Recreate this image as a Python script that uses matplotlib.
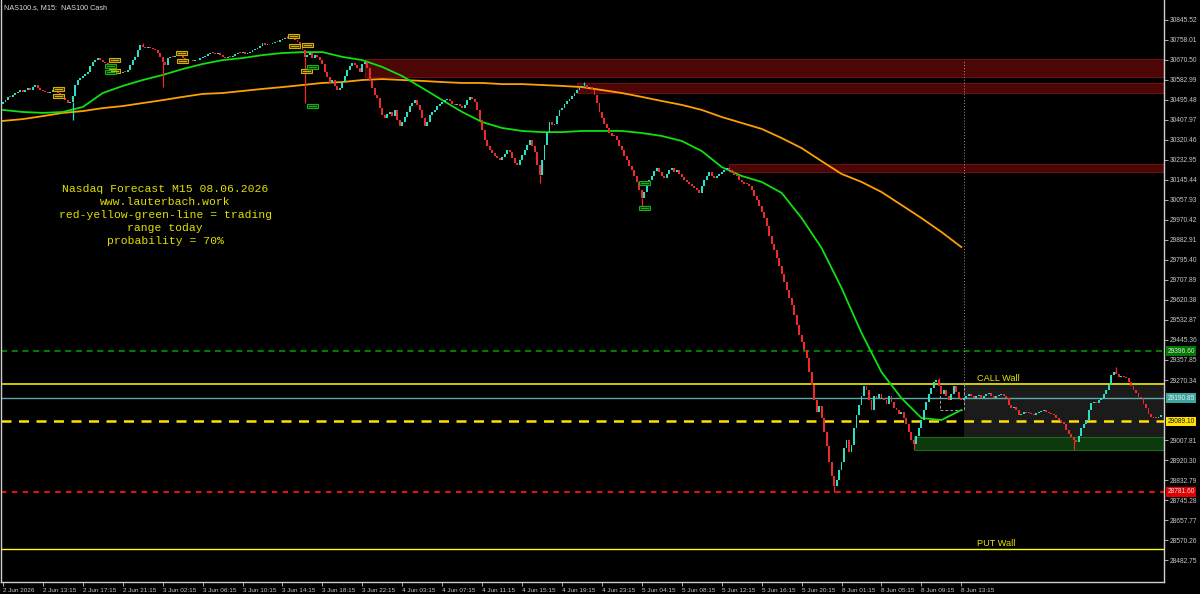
import matplotlib
matplotlib.use("Agg")
import matplotlib.pyplot as plt
from matplotlib.patches import Rectangle

# M15 closes (2 Jun 09:15 .. 8 Jun 13:30)
close_real = [
    30487, 30495, 30509, 30509, 30517, 30526, 30530, 30539, 30530, 30539, 30548, 30539, 30552, 30561, 30548, 30539,
    30535, 30530, 30526, 30530, 30539, 30530, 30526, 30509, 30504, 30495, 30482, 30487, 30513, 30561, 30583, 30592,
    30600, 30609, 30618, 30644, 30662, 30670, 30679, 30670, 30662, 30657, 30644, 30635, 30627, 30618, 30609, 30614,
    30618, 30618, 30627, 30649, 30670, 30684, 30714, 30736, 30727, 30723, 30727, 30723, 30719, 30714, 30701, 30684,
    30662, 30649, 30679, 30684, 30684, 30688, 30692, 30688, 30679, 30675, 30670, 30670, 30666, 30670, 30670, 30679,
    30684, 30688, 30697, 30701, 30701, 30697, 30701, 30692, 30684, 30679, 30684, 30684, 30688, 30697, 30701, 30701,
    30705, 30697, 30701, 30705, 30714, 30719, 30723, 30732, 30745, 30736, 30740, 30740, 30745, 30749, 30749, 30758,
    30762, 30767, 30767, 30771, 30767, 30758, 30749, 30736, 30714, 30684, 30692, 30701, 30679, 30692, 30684, 30670,
    30653, 30618, 30596, 30570, 30583, 30557, 30539, 30548, 30574, 30600, 30627, 30644, 30657, 30649, 30635, 30618,
    30653, 30662, 30635, 30583, 30548, 30517, 30504, 30460, 30430, 30417, 30434, 30443, 30425, 30452, 30408, 30382,
    30399, 30421, 30443, 30469, 30482, 30495, 30474, 30452, 30417, 30382, 30399, 30430, 30443, 30452, 30469, 30478,
    30487, 30495, 30500, 30491, 30478, 30474, 30478, 30469, 30460, 30474, 30495, 30509, 30500, 30487, 30452, 30408,
    30364, 30320, 30294, 30277, 30264, 30250, 30242, 30233, 30246, 30259, 30277, 30268, 30242, 30220, 30211, 30233,
    30255, 30277, 30299, 30320, 30294, 30268, 30211, 30167, 30233, 30299, 30355, 30399, 30386, 30390, 30425, 30452,
    30460, 30478, 30491, 30500, 30513, 30526, 30539, 30548, 30557, 30561, 30548, 30552, 30539, 30517, 30482, 30443,
    30417, 30390, 30373, 30351, 30338, 30338, 30320, 30294, 30277, 30250, 30233, 30207, 30189, 30163, 30137, 30102,
    30067, 30093, 30119, 30145, 30163, 30185, 30198, 30180, 30163, 30154, 30172, 30189, 30198, 30180, 30189, 30172,
    30159, 30145, 30137, 30128, 30119, 30110, 30102, 30089, 30119, 30145, 30163, 30180, 30163, 30154, 30163, 30172,
    30180, 30189, 30198, 30189, 30180, 30167, 30163, 30145, 30137, 30128, 30128, 30119, 30102, 30075, 30058, 30032,
    30005, 29979, 29944, 29900, 29865, 29839, 29804, 29769, 29734, 29699, 29664, 29629, 29598, 29555, 29511, 29467,
    29437, 29402, 29367, 29305, 29248, 29183, 29130, 29156, 29104, 29043, 28981, 28911, 28850, 28806, 28833, 28876,
    28911, 28973, 29008, 28955, 28986, 29060, 29117, 29161, 29200, 29244, 29227, 29183, 29139, 29200, 29191, 29209,
    29191, 29183, 29165, 29200, 29174, 29148, 29139, 29121, 29130, 29104, 29078, 29043, 29008, 28990, 29025, 29060,
    29095, 29139, 29174, 29209, 29235, 29262, 29270, 29244, 29209, 29227, 29200, 29183, 29209, 29244, 29218, 29191,
    29183, 29191,
]
first_open = 30478

# projected candles to the right of the dotted line
close_fc = [
    29200, 29209, 29200, 29191, 29200, 29205, 29191, 29200, 29209, 29213,
    29200, 29191, 29200, 29205, 29209, 29200, 29191, 29161, 29148, 29152,
    29139, 29117, 29121, 29130, 29126, 29126, 29121, 29117, 29126, 29130,
    29135, 29139, 29130, 29126, 29121, 29117, 29104, 29095, 29086, 29078,
    29051, 29034, 29021, 29008, 28999, 29025, 29060, 29078, 29095, 29139,
    29170, 29174, 29170, 29183, 29191, 29209, 29227, 29248, 29292, 29305,
    29297, 29283, 29288, 29283, 29279, 29262, 29244, 29227, 29213, 29196,
    29191, 29165, 29148, 29121, 29108, 29104, 29104, 29108, 29117,
]

# notable wicks (bar index -> price)
wick_high = {56: 30745, 114: 30775, 233: 30574, 375: 29279, 446: 29327}
wick_low = {28: 30408, 64: 30553, 121: 30482, 215: 30132, 256: 30023,
            333: 28781, 365: 28968, 429: 28964}

# moving averages, read every 8 bars
ma_step = 8
ma_fast = [30452, 30443, 30439, 30443, 30465, 30526, 30557, 30583, 30605, 30631,
           30653, 30670, 30679, 30692, 30701, 30705, 30705, 30684, 30670, 30640,
           30600, 30548, 30495, 30443, 30399, 30373, 30360, 30355, 30355, 30360,
           30360, 30360, 30351, 30338, 30316, 30272, 30202, 30163, 30137, 30089,
           29979, 29848, 29673, 29476, 29305, 29191, 29104, 29095, 29139]
ma_slow = [30404, 30412, 30425, 30439, 30447, 30460, 30469, 30482, 30495, 30509,
           30522, 30526, 30535, 30544, 30552, 30561, 30570, 30574, 30583, 30587,
           30583, 30579, 30574, 30570, 30570, 30565, 30565, 30561, 30557, 30552,
           30539, 30526, 30509, 30491, 30474, 30452, 30421, 30395, 30369, 30329,
           30285, 30228, 30172, 30137, 30093, 30036, 29979, 29918, 29852]

# levels
level_green = 29396.60
level_call = 29253.0
level_bid = 29190.85
level_yellow = 29089.10
level_red = 28781.60
level_put = 28531.0

# zones (start bar, top, bottom)
supply_zones = [(145, 30675, 30596), (230, 30570, 30526), (291, 30215, 30180)]
range_box = (385.2, 29257, 29021)
demand_box = (365.2, 29021, 28964)

# pattern markers (bar, price, colour)
markers = [(22.4, 30544, "y"), (22.4, 30513, "y"), (44.8, 30670, "y"), (44.8, 30622, "y"),
           (43.2, 30644, "g"), (43.2, 30618, "g"), (71.6, 30701, "y"), (72, 30666, "y"),
           (116.4, 30775, "y"), (116.8, 30732, "y"), (122, 30736, "y"), (121.6, 30622, "y"),
           (124, 30640, "g"), (124, 30469, "g"), (257.2, 30133, "g"), (257.2, 30023, "g")]

x_labels = ["2 Jun 2026", "2 Jun 13:15", "2 Jun 17:15", "2 Jun 21:15", "3 Jun 02:15",
            "3 Jun 06:15", "3 Jun 10:15", "3 Jun 14:15", "3 Jun 18:15", "3 Jun 22:15",
            "4 Jun 03:15", "4 Jun 07:15", "4 Jun 11:15", "4 Jun 15:15", "4 Jun 19:15",
            "4 Jun 23:15", "5 Jun 04:15", "5 Jun 08:15", "5 Jun 12:15", "5 Jun 16:15",
            "5 Jun 20:15", "8 Jun 01:15", "8 Jun 05:15", "8 Jun 09:15", "8 Jun 13:15"]

BULL = "#28e0c4"
BEAR = "#f02a2a"
FG = "#c8c8c8"
AXFONT = "Liberation Sans"

fig = plt.figure(figsize=(12, 5.94), dpi=100, facecolor="black")
ax = fig.add_axes([0.0008, 0.0202, 0.9692, 0.9798])
ax.set_facecolor("black")

n_real = len(close_real)
closes = close_real + close_fc
opens = [first_open] + closes[:-1]
x_end = len(closes) + 0.2

# zones behind everything
for start, top, bot in supply_zones:
    ax.add_patch(Rectangle((start, bot), x_end - start, top - bot,
                           facecolor="#4c0606", edgecolor="#6a1212", lw=0.8, zorder=1))
ax.add_patch(Rectangle((range_box[0], range_box[2]), x_end - range_box[0], range_box[1] - range_box[2],
                       facecolor="#1b1b1b", edgecolor="none", zorder=1))
ax.add_patch(Rectangle((demand_box[0], demand_box[2]), x_end - demand_box[0], demand_box[1] - demand_box[2],
                       facecolor="#0d3a0d", edgecolor="#1c6a1c", lw=0.8, zorder=1))

# horizontal levels
ax.axhline(level_green, color="#00a000", lw=1.1, ls=(0, (4, 3)), zorder=2)
ax.axhline(level_call, color="#ffff00", lw=1.1, zorder=2)
ax.axhline(level_bid, color="#5fa8a8", lw=1.0, zorder=2)
ax.axhline(level_yellow, color="#ffe000", lw=1.8, ls=(0, (4, 3)), zorder=2)
ax.axhline(level_red, color="#ff1010", lw=1.3, ls=(0, (3, 3)), zorder=2)
ax.axhline(level_put, color="#ffff00", lw=1.0, zorder=2)

# dotted separator
ax.vlines(n_real - 0.8, 29180, 30670, colors="#9a9a9a", lw=0.7, linestyles=(0, (1, 2)), zorder=2)

# small bracket before the projection
ax.add_patch(Rectangle((375.5, 29139), 9.5, 120, facecolor="none", edgecolor="#a0a0a0",
                       lw=0.7, ls=(0, (3, 2)), zorder=2))

# moving averages
ma_x = [i * ma_step for i in range(len(ma_fast))]
ax.plot(ma_x, ma_slow, color="#ffa000", lw=1.3, zorder=3)
ax.plot(ma_x, ma_fast, color="#10e010", lw=1.3, zorder=3)

# candles
for i, (o, c) in enumerate(zip(opens, closes)):
    col = BULL if c > o else BEAR
    lo = min(o, c)
    h = max(abs(c - o), 2.5)
    ax.add_patch(Rectangle((i - 0.38, lo), 0.76, h, facecolor=col, edgecolor="none", zorder=4))
    if i in wick_high:
        ax.vlines(i, max(o, c), wick_high[i], colors=col, lw=0.9, zorder=4)
    if i in wick_low:
        ax.vlines(i, wick_low[i], lo, colors=col, lw=0.9, zorder=4)

# pattern markers
for mx, my, mc in markers:
    ec = "#d8b000" if mc == "y" else "#18b018"
    fc = "#3a3000" if mc == "y" else "#0a300a"
    ax.add_patch(Rectangle((mx - 2.2, my - 8), 4.4, 16, facecolor=fc, edgecolor=ec, lw=0.8, zorder=5))
    ax.plot([mx - 1.4, mx + 1.4], [my, my], color=ec, lw=0.8, zorder=6)

# wall labels
ax.text(390.4, level_call + 12, "CALL Wall", color="#e8e800", fontsize=6.6, family=AXFONT, zorder=6)
ax.text(390.4, level_put + 12, "PUT Wall", color="#e8e800", fontsize=6.6, family=AXFONT, zorder=6)

# forecast note
note = ("Nasdaq Forecast M15 08.06.2026\nwww.lauterbach.work\n"
        "red-yellow-green-line = trading\nrange today\nprobability = 70%")
ax.text(65, 30128, note, color="#e0e000", fontsize=8.2, family="Liberation Mono",
        ha="center", va="top", linespacing=1.38, zorder=6)

ax.text(0.003, 0.993, "NAS100.s, M15:  NAS100 Cash", transform=ax.transAxes,
        color="#e0e0e0", fontsize=5.2, family=AXFONT, va="top", zorder=6)

# axes
ax.set_xlim(-0.8, 465.2)
ax.set_ylim(28386.5, 30933.0)
ax.spines["top"].set_visible(False)
for s in ["left", "right", "bottom"]:
    ax.spines[s].set_color("#d0d0d0")
    ax.spines[s].set_linewidth(1.0)

yt = [30845.52 - 87.51 * k for k in range(28)]
yt = [v for v in yt if abs(v - 29182.83) > 1 and abs(v - 29095.32) > 1]
ax.yaxis.tick_right()
ax.set_yticks(yt)
ax.set_yticklabels([f"{v:.2f}" for v in yt], family=AXFONT)
ax.tick_params(axis="y", colors=FG, labelsize=4.8, length=3, pad=1, width=0.6)

ax.set_xticks([16 * k for k in range(len(x_labels))])
ax.set_xticklabels(x_labels, ha="left", family=AXFONT)
ax.tick_params(axis="x", colors=FG, labelsize=4.6, length=3, pad=1, width=0.6)

# highlighted price tags on the right axis
ytr = ax.get_yaxis_transform()
tags = [(level_green, "#007800", "#e0e0e0"), (level_bid, "#3aa6a0", "#e8e8e8"),
        (level_yellow, "#ffe000", "#202020"), (level_red, "#e00000", "#e0e0e0")]
for val, bg, fg in tags:
    ax.text(1.003, val, f"{val:.2f}", transform=ytr, color=fg, fontsize=4.8, family=AXFONT,
            va="center", ha="left", bbox=dict(facecolor=bg, edgecolor="none", pad=1.0),
            zorder=7, clip_on=False)

plt.savefig("out.png", dpi=100, facecolor="black")
plt.close()
